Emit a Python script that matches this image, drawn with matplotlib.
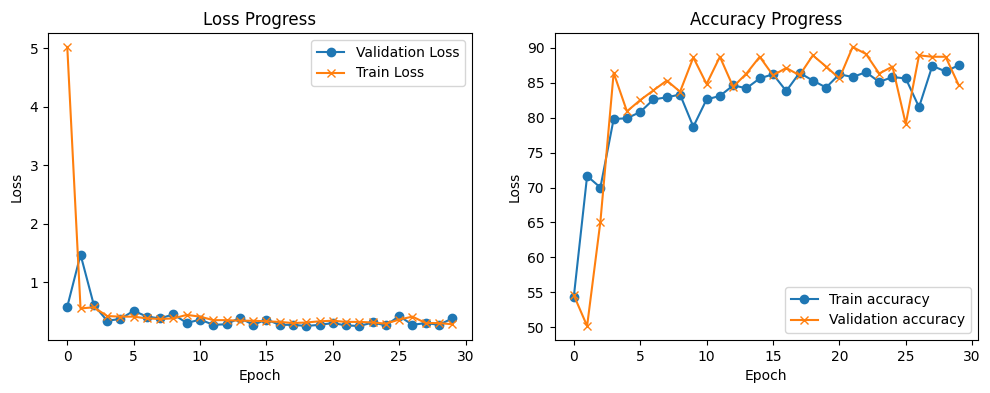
import numpy as np
import matplotlib.pyplot as plt

# --- loss values ---
val_loss = [0.58, 1.47, 0.61, 0.34, 0.37, 0.51, 0.41, 0.38, 0.45, 0.30,
            0.36, 0.27, 0.28, 0.39, 0.27, 0.36, 0.27, 0.27, 0.25, 0.27,
            0.30, 0.26, 0.25, 0.31, 0.26, 0.42, 0.27, 0.30, 0.27, 0.38]
train_loss = [5.02, 0.55, 0.57, 0.42, 0.41, 0.41, 0.38, 0.37, 0.38, 0.44,
              0.41, 0.35, 0.35, 0.34, 0.34, 0.33, 0.32, 0.30, 0.31, 0.33,
              0.34, 0.32, 0.32, 0.31, 0.29, 0.36, 0.41, 0.30, 0.30, 0.28]

# --- accuracy values ---
train_acc = [54.4, 71.65, 70.0, 79.8, 79.9, 80.8, 82.6, 82.9, 83.3, 78.7,
             82.6, 83.1, 84.6, 84.2, 85.6, 86.2, 83.8, 86.4, 85.3, 84.3,
             86.2, 85.8, 86.5, 85.1, 85.8, 85.6, 81.5, 87.4, 86.6, 87.5]
val_acc = [54.6, 50.2, 65.1, 86.4, 80.9, 82.5, 83.9, 85.3, 83.7, 88.6,
           84.8, 88.7, 84.4, 86.3, 88.7, 86.05, 87.1, 86.05, 88.9, 87.3,
           85.6, 90.1, 89.1, 86.3, 87.3, 79.1, 88.9, 88.7, 88.7, 84.6]

epochs = np.arange(len(val_loss))

fig, (ax1, ax2) = plt.subplots(1, 2, figsize=(9.9, 3.93))
fig.subplots_adjust(left=0.0485, right=0.988, top=0.916, bottom=0.135, wspace=0.196)

# Loss
ax1.plot(epochs, val_loss, marker='o', label='Validation Loss')
ax1.plot(epochs, train_loss, marker='x', label='Train Loss')
ax1.set_title('Loss Progress')
ax1.set_xlabel('Epoch')
ax1.set_ylabel('Loss')
ax1.legend()

# Accuracy
ax2.plot(epochs, train_acc, marker='o', label='Train accuracy')
ax2.plot(epochs, val_acc, marker='x', label='Validation accuracy')
ax2.set_title('Accuracy Progress')
ax2.set_xlabel('Epoch')
ax2.set_ylabel('Loss')
ax2.legend(loc='lower right')

fig.savefig('out.png', dpi=100)
